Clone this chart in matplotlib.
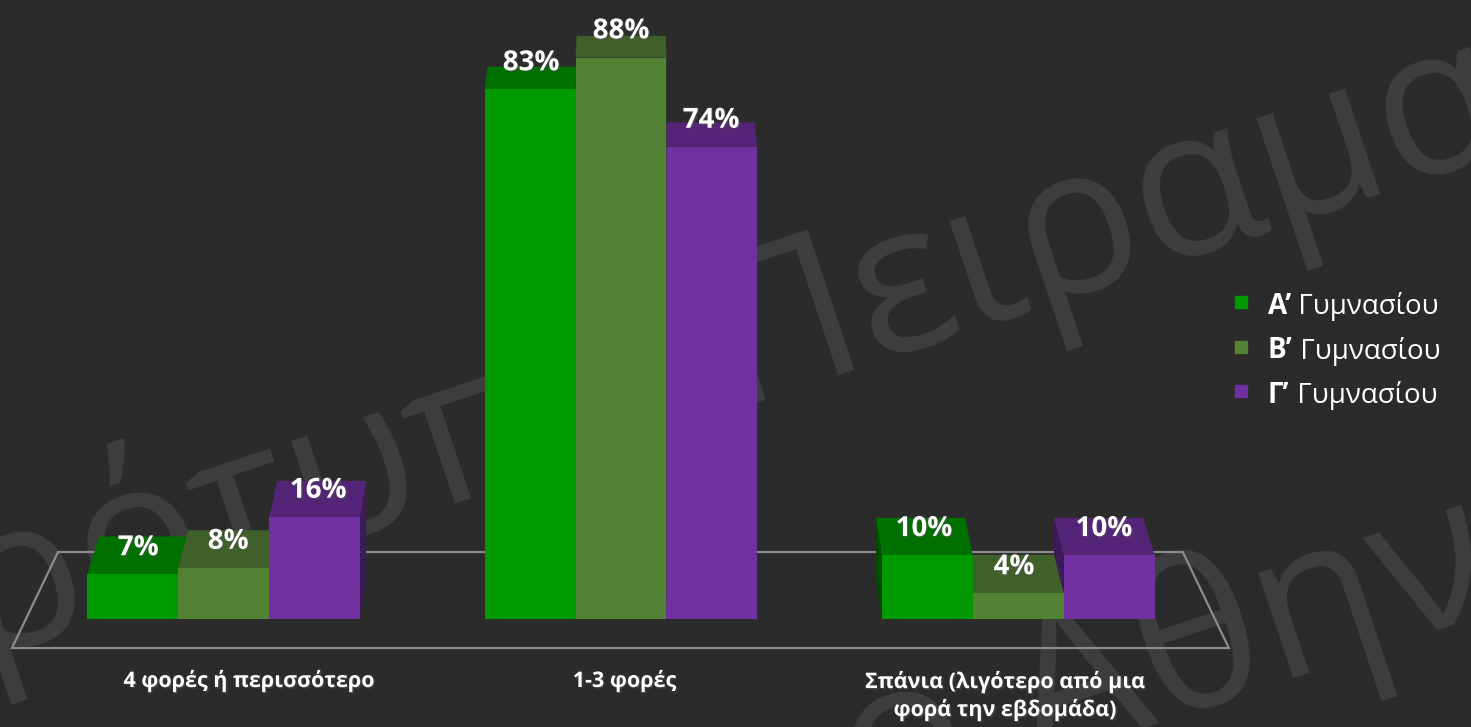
import numpy as np
import matplotlib
matplotlib.use('Agg')
import matplotlib.pyplot as plt
from matplotlib.patches import Polygon
import matplotlib.patheffects as pe

plt.rcParams['font.family'] = ['Open Sans', 'DejaVu Sans']

# --- Data ---
categories = ['4 φορές ή περισσότερο', '1-3 φορές',
              'Σπάνια (λιγότερο από μια\nφορά την εβδομάδα)']
series_bold = ['Α’', 'Β’', 'Γ’']
series_name = 'Γυμνασίου'
a_gym = [7, 83, 10]
b_gym = [8, 88, 4]
c_gym = [16, 74, 10]
values = [a_gym, b_gym, c_gym]

front_colors = ['#009900', '#548235', '#7030a0']
top_colors = ['#007000', '#3f6129', '#542479']
side_colors = ['#004c00', '#2f4a1f', '#3d1a5a']
bg = '#2b2b2b'

# --- Pseudo 3D projection (data units) ---
KX, VX = 0.0223, 1.018
KY, VY = 0.0313, 196.8
W = 0.229


def back(x, v):
    return x + KX * (VX - x), v + KY * (VY - v)


W_PX, H_PX = 1471, 727
PX_PER_PCT = 6.38


def px(x, y):
    # pixel position -> axes fraction (layout only)
    return x / W_PX, 1 - y / H_PX


fig = plt.figure(figsize=(14.71, 7.27), dpi=100, facecolor=bg)
ax = fig.add_axes([0, 0, 1, 1])
ax.set_facecolor(bg)
ax.axis('off')
ax.set_xlim(-223.7 / 397.3, (W_PX - 223.7) / 397.3)
ax.set_ylim(-(H_PX - 619) / PX_PER_PCT, 619 / PX_PER_PCT)

# --- Watermark ---
wm = dict(color='#3e3e3e', fontsize=150, rotation=18.5, rotation_mode='anchor',
          transform=ax.transAxes, zorder=0, va='baseline')
ax.text(*px(-164, 711), 'Πρότυπο Πειραματικό', ha='left', **wm)
ax.text(*px(1035, 765), 'Γυμνάσιο ', ha='right', **wm)
ax.text(*px(1035, 765), 'Αθηνών', ha='left', **wm)

# --- Floor outline ---
floor = Polygon([(-0.417, 10.5), (2.414, 10.5), (2.530, -4.55), (-0.533, -4.55)],
                closed=True, fill=False, edgecolor='#8c8c8c', lw=1.6, zorder=1)
ax.add_patch(floor)

shadow = [pe.SimplePatchShadow(offset=(1.2, -1.2), alpha=0.45), pe.Normal()]

# --- Bars ---
z = 2
for g in range(len(categories)):
    xs = [g + (j - 1) * W for j in range(3)]
    order = sorted(range(3), key=lambda j: -abs(xs[j] - VX))
    for j in order:
        v = values[j][g]
        xc = xs[j]
        xl, xr = xc - W / 2, xc + W / 2
        # side face
        xe = xr if xc < VX else xl
        bx, bv = back(xe, v)
        bx0, bv0 = back(xe, 0)
        ax.add_patch(Polygon([(xe, 0), (xe, v), (bx, bv), (bx0, bv0)],
                             closed=True, facecolor=side_colors[j], lw=0, zorder=z))
        # top face
        blx, blv = back(xl, v)
        brx, brv = back(xr, v)
        ax.add_patch(Polygon([(xl, v), (xr, v), (brx, brv), (blx, blv)],
                             closed=True, facecolor=top_colors[j], lw=0, zorder=z + 0.1))
        # front face
        ax.bar(xc, v, width=W, bottom=0, color=front_colors[j], lw=0, zorder=z + 0.2)
        z += 1
    for j in range(3):
        v = values[j][g]
        tx = xs[j] + KX * (VX - xs[j]) / 2
        ax.text(tx, v + 3.0, f'{v}%', ha='center', va='baseline', color='white',
                fontsize=20, fontweight='bold', zorder=50, path_effects=shadow)

# --- Category labels ---
label_x = [0.064, 1.009, 1.967]
line_gap = 29 / PX_PER_PCT
for x, c in zip(label_x, categories):
    n = c.count('\n')
    ax.text(x, -10.66 - n * line_gap, c, ha='center', va='baseline', color='white',
            fontsize=15.5, fontweight='bold', linespacing=1.35,
            multialignment='center', zorder=50, path_effects=shadow)

# --- Legend ---
for k in range(3):
    my = 302 + 44.5 * k
    ax.plot(*px(1241, my), marker='s', markersize=8, color=front_colors[k],
            transform=ax.transAxes, zorder=50, lw=0)
    t = ax.text(*px(1268, my + 12), series_bold[k], ha='left', va='baseline',
                color='white', fontsize=20, fontweight='bold',
                transform=ax.transAxes, zorder=50)
    ax.annotate(' ' + series_name, xy=(1, 0), xycoords=t, ha='left', va='bottom',
                color='white', fontsize=20, zorder=50)

fig.savefig('out.png', dpi=100, facecolor=bg)
